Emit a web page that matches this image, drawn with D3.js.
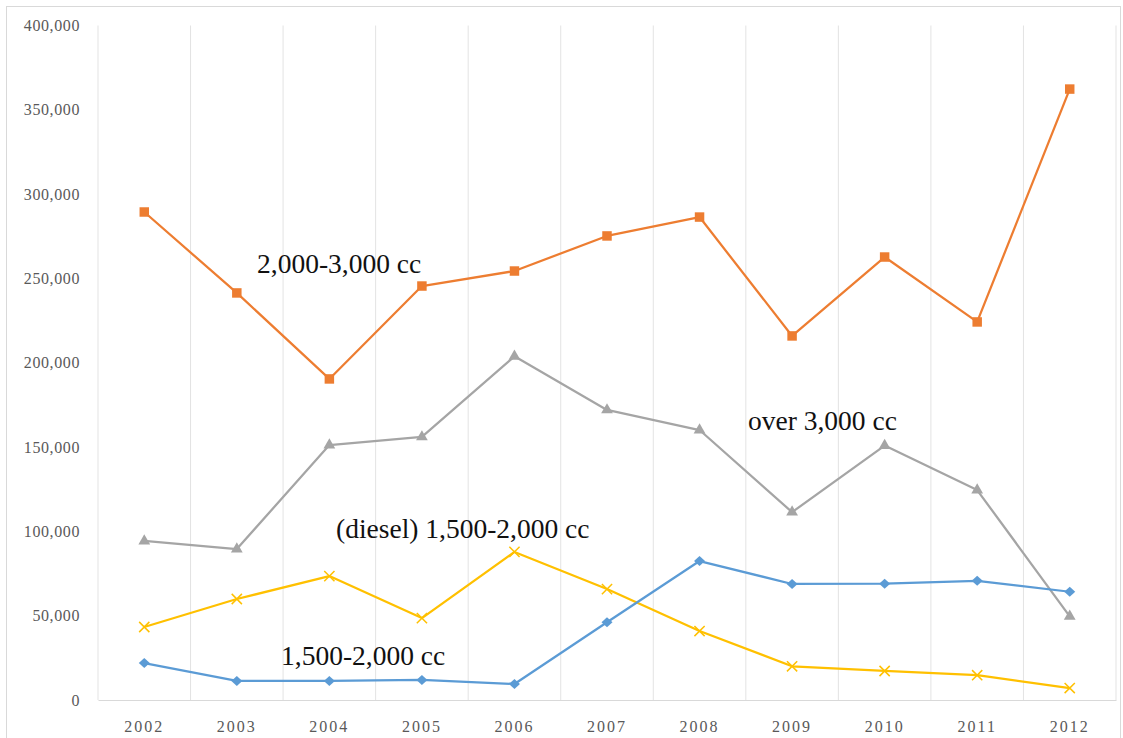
<!DOCTYPE html>
<html>
<head>
<meta charset="utf-8">
<script src="https://cdn.jsdelivr.net/npm/d3@7"></script>
<style>
  html, body { margin: 0; padding: 0; background: #fff; }
  svg { display: block; }
  .tick text { font-family: "Liberation Serif", "Times New Roman", serif; font-size: 16px; fill: #595959; }
  .series-label { font-family: "Liberation Serif", "Times New Roman", serif; font-size: 27.5px; fill: #111; }
</style>
</head>
<body>
<svg id="chart" width="1123" height="738"></svg>
<script>
// Years on the category axis
const years = ["2002","2003","2004","2005","2006","2007","2008","2009","2010","2011","2012"];

// Units per engine class
const cc1500to2000 = [21900, 11300, 11300, 11900, 9500, 46100, 82400, 68800, 69000, 70700, 64200];
const cc2000to3000 = [289400, 241400, 190400, 245500, 254400, 275200, 286400, 215900, 262700, 224200, 362300];
const ccOver3000 = [94300, 89500, 151200, 156000, 203800, 172000, 160100, 111400, 150900, 124500, 49600];
const dieselCc1500to2000 = [43300, 59900, 73500, 48600, 87800, 65800, 40900, 20000, 17200, 14700, 7100];

// Value axis ticks
const yTicks = [0, 50000, 100000, 150000, 200000, 250000, 300000, 350000, 400000];

// Series labels drawn on the plot
const seriesNames = ["1,500-2,000 cc", "2,000-3,000 cc", "over 3,000 cc", "(diesel) 1,500-2,000 cc"];

const series = [
  { name: seriesNames[0], values: cc1500to2000, color: "#5B9BD5", marker: "diamond", label: { x: 281, y: 665 } },
  { name: seriesNames[1], values: cc2000to3000, color: "#ED7D31", marker: "square", label: { x: 257, y: 273 } },
  { name: seriesNames[2], values: ccOver3000, color: "#A5A5A5", marker: "triangle", label: { x: 748, y: 430 } },
  { name: seriesNames[3], values: dieselCc1500to2000, color: "#FFC000", marker: "x", label: { x: 336, y: 538 } }
];

const svg = d3.select("#chart");
const plot = { left: 98, right: 1116, top: 25.5, bottom: 700 };

// Outer chart frame
svg.append("rect")
  .attr("x", 6.5).attr("y", 6.5)
  .attr("width", 1114).attr("height", 740)
  .attr("fill", "#fff")
  .attr("stroke", "#d9d9d9").attr("stroke-width", 1);

const x = d3.scaleBand().domain(years).range([plot.left, plot.right]).paddingInner(0).paddingOuter(0);
const y = d3.scaleLinear().domain([0, 400000]).range([plot.bottom, plot.top]);

// Vertical gridlines at category boundaries
const bounds = years.map(d => x(d)).concat([x(years[years.length - 1]) + x.bandwidth()]);
svg.append("g").selectAll("line").data(bounds).join("line")
  .attr("x1", d => d).attr("x2", d => d)
  .attr("y1", plot.top).attr("y2", plot.bottom)
  .attr("stroke", "#e3e3e3").attr("stroke-width", 1);

// Category axis
const xAxis = svg.append("g")
  .attr("transform", `translate(0,${plot.bottom})`)
  .call(d3.axisBottom(x).tickSize(0).tickPadding(21));
xAxis.attr("font-family", null).attr("font-size", null);
xAxis.select(".domain").attr("stroke", "#d9d9d9").attr("stroke-width", 1);
xAxis.selectAll(".tick text").style("letter-spacing", "2px");

// Value axis
const yAxis = svg.append("g")
  .attr("transform", `translate(${plot.left},0)`)
  .call(d3.axisLeft(y).tickValues(yTicks).tickSize(0).tickPadding(18)
    .tickFormat(d3.format(",")));
yAxis.attr("font-family", null).attr("font-size", null);
yAxis.select(".domain").remove();
yAxis.selectAll(".tick text").style("letter-spacing", "0.6px");

const cx = d => x(d) + x.bandwidth() / 2;
const line = d3.line().x((d, i) => cx(years[i])).y(d => y(d));

// Wide diamond marker (rotated square)
const diamondPath = "M-5.5,0L0,-5L5.5,0L0,5Z";

const symbolFor = {
  square: d3.symbol().type(d3.symbolSquare).size(90),
  triangle: d3.symbol().type(d3.symbolTriangle).size(60),
  x: d3.symbol().type(d3.symbolTimes).size(70)
};

const order = [2, 1, 3, 0];
order.forEach(k => {
  const s = series[k];
  const g = svg.append("g");
  g.append("path")
    .datum(s.values)
    .attr("d", line)
    .attr("fill", "none")
    .attr("stroke", s.color)
    .attr("stroke-width", 2.25)
    .attr("stroke-linejoin", "round");
  g.selectAll("path.m").data(s.values).join("path")
    .attr("class", "m")
    .attr("transform", (d, i) => `translate(${cx(years[i])},${y(d)})`)
    .attr("d", s.marker === "diamond" ? diamondPath : symbolFor[s.marker])
    .attr("fill", s.marker === "x" ? "none" : s.color)
    .attr("stroke", s.color)
    .attr("stroke-width", s.marker === "x" ? 1.5 : 0);
});

// Series labels
svg.append("g").selectAll("text").data(series).join("text")
  .attr("class", "series-label")
  .attr("x", d => d.label.x)
  .attr("y", d => d.label.y)
  .text(d => d.name);
</script>
</body>
</html>
